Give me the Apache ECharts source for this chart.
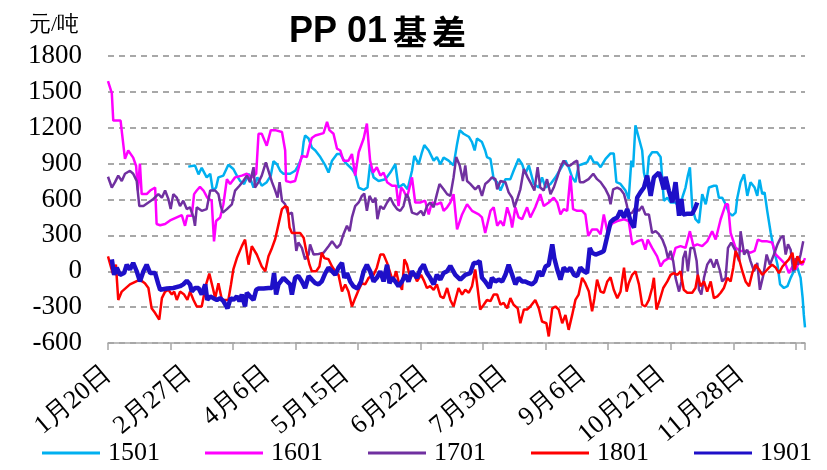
<!DOCTYPE html>
<html>
<head>
<meta charset="utf-8">
<script src="https://cdn.jsdelivr.net/npm/echarts@6/dist/echarts.min.js"></script>
<style>
  html, body { margin: 0; padding: 0; background: #fff; }
  #chart { width: 827px; height: 470px; }
</style>
</head>
<body>
<div id="chart"></div>
<script>
// x = trading-day index from 1月20日, one label every 27 trading days
var tickLabels = ["1月20日", "2月27日", "4月6日", "5月15日", "6月22日", "7月30日", "9月6日", "10月21日", "11月28日"];
var seriesNames = ["1501", "1601", "1701", "1801", "1901"];
var seriesColors = ["#00B0F0", "#FF00FF", "#7030A0", "#FF0000", "#1E0FC8"];

var s1501 = [[27.4,875],[29.7,885],[30.9,810],[32.0,865],[33.7,785],[34.9,815],[35.8,675],[36.9,700],[37.7,785],[39.4,800],[41.1,890],[42.8,855],[44.0,800],[45.1,755],[46.5,730],[48.0,815],[49.7,700],[51.0,785],[52.5,715],[54.2,745],[55.6,800],[56.5,920],[57.7,895],[58.8,840],[59.9,815],[62.2,815],[63.9,840],[65.0,885],[66.2,955],[66.8,1080],[67.3,1135],[68.5,1110],[69.6,1035],[70.8,1010],[72.5,955],[74.2,885],[75.3,825],[76.5,925],[78.2,980],[79.3,980],[81.0,910],[83.3,855],[84.4,815],[85.6,700],[87.3,680],[88.6,700],[89.5,895],[90.7,785],[92.4,755],[94.7,770],[96.4,825],[98.1,895],[99.2,700],[100.9,730],[102.3,685],[103.8,840],[104.6,965],[106.1,895],[107.2,995],[108.0,1055],[109.5,1010],[111.2,925],[112.3,955],[113.5,895],[114.6,950],[116.3,925],[118.0,885],[119.2,1065],[120.1,1180],[121.4,1150],[123.2,1125],[124.3,1080],[125.2,1010],[126.0,1110],[127.7,1080],[128.8,1010],[129.4,955],[130.6,940],[131.7,770],[132.9,745],[134.0,675],[135.7,770],[137.4,770],[138.5,840],[140.2,940],[141.4,895],[142.5,815],[143.7,885],[145.4,730],[147.1,700],[148.2,785],[149.4,700],[151.1,730],[152.8,785],[154.5,855],[156.2,925],[157.3,870],[158.5,785],[159.6,745],[160.7,885],[161.9,895],[163.6,910],[164.7,965],[165.9,910],[167.0,910],[168.2,870],[169.9,940],[171.6,985],[172.7,985],[173.6,745],[175.0,730],[176.7,675],[177.8,605],[178.7,925],[179.3,870],[180.1,1220],[181.3,1110],[182.4,1010],[183.0,825],[183.9,730],[184.7,955],[185.8,995],[187.5,995],[188.7,955],[189.8,590],[191.0,615],[192.1,575],[193.8,575],[195.0,535],[196.1,615],[197.2,700],[198.0,800],[198.7,870],[199.5,535],[200.6,435],[201.8,405],[202.9,645],[204.1,560],[205.2,700],[206.9,715],[207.8,715],[208.6,615],[209.7,615],[210.9,560],[212.0,490],[213.2,465],[214.3,490],[214.9,615],[216.0,745],[217.2,810],[218.3,630],[219.4,745],[220.8,700],[221.7,630],[222.5,765],[223.4,645],[224.2,660],[225.1,505],[226.3,320],[227.4,180],[228.6,55],[229.5,-110],[230.8,-140],[232.0,-125],[233.1,-55],[234.2,0],[235.4,30],[236.5,-55],[237.2,-225],[237.6,-365],[238.0,-470]];

var s1601 = [[0,1590],[1.3,1490],[1.8,1260],[4.3,1260],[4.8,1150],[5.8,940],[6.9,1010],[8.6,950],[9.6,880],[10.2,675],[10.9,900],[11.5,645],[13.2,645],[14.4,675],[16.1,700],[16.6,395],[17.8,385],[19.5,395],[21.2,425],[25.2,470],[26.3,380],[27.1,465],[28.6,465],[29.4,645],[30.3,675],[31.4,705],[32.6,675],[33.9,615],[35.4,590],[36.2,250],[36.9,420],[38.3,450],[39.4,560],[40.6,770],[41.7,730],[43.4,785],[45.7,800],[47.4,815],[49.1,785],[50.6,815],[51.4,1150],[52.5,1150],[54.2,1050],[55.6,1180],[57.1,1180],[59.4,1165],[60.5,1010],[60.8,755],[62.2,745],[63.9,755],[65.0,855],[66.2,965],[67.9,955],[69.0,1065],[69.6,1115],[70.8,1135],[73.6,1155],[74.8,1250],[75.6,1180],[77.0,1150],[78.2,1025],[79.3,1010],[80.4,925],[82.1,925],[83.3,980],[84.4,800],[85.6,995],[87.3,1110],[88.4,1235],[89.5,925],[90.5,825],[91.8,870],[93.0,800],[94.1,825],[95.3,745],[97.0,715],[98.4,715],[99.2,545],[100.1,700],[100.9,675],[102.1,615],[103.8,785],[104.9,575],[106.6,575],[108.3,590],[109.5,475],[110.6,575],[112.3,560],[113.7,575],[114.6,505],[115.8,535],[116.9,575],[118.0,645],[119.2,350],[120.9,475],[122.6,560],[124.3,505],[126.6,475],[127.7,450],[128.8,320],[130.6,505],[131.7,535],[132.9,380],[134.0,420],[135.1,380],[136.3,535],[137.4,450],[138.0,365],[139.1,535],[140.2,450],[141.4,435],[143.1,535],[144.2,450],[145.9,535],[147.6,645],[148.8,545],[150.5,575],[152.2,615],[153.4,575],[154.5,475],[155.6,520],[156.8,505],[157.9,800],[158.8,520],[160.2,505],[161.9,505],[163.0,475],[164.0,295],[165.3,350],[167.0,350],[168.2,310],[169.3,475],[170.5,335],[172.2,400],[173.9,420],[176.2,435],[177.8,420],[179.0,225],[180.7,250],[182.4,265],[183.5,180],[184.3,265],[185.8,195],[187.5,125],[188.7,40],[189.8,85],[191.5,110],[192.7,100],[193.8,195],[195.5,210],[197.2,195],[198.7,335],[199.9,210],[201.2,225],[202.9,210],[204.6,250],[206.3,335],[207.5,265],[209.2,435],[210.9,560],[211.7,560],[212.6,320],[214.3,195],[216.0,170],[217.7,170],[219.4,155],[220.8,170],[221.9,265],[223.4,250],[225.1,250],[226.8,240],[228.0,140],[229.7,100],[231.4,55],[232.5,-15],[233.7,40],[234.8,15],[235.9,70],[237.1,55],[238.0,110]];

var s1701 = [[0,790],[1.3,700],[2.4,745],[3.5,800],[4.7,755],[5.8,815],[7.5,840],[8.6,815],[9.8,755],[10.7,545],[12.1,545],[13.8,575],[15.5,605],[17.2,645],[18.4,615],[19.5,675],[20.6,605],[21.4,520],[22.3,645],[23.5,615],[24.6,545],[25.7,590],[26.9,520],[28.0,535],[29.2,450],[29.7,380],[30.3,535],[32.0,505],[33.7,520],[34.9,675],[36.6,675],[37.7,645],[38.5,545],[39.2,490],[40.6,520],[42.3,560],[43.4,675],[44.9,715],[46.2,755],[47.4,800],[48.5,745],[49.7,870],[50.2,700],[51.4,745],[52.5,800],[53.9,910],[54.8,840],[56.0,745],[57.1,675],[57.9,615],[58.6,745],[59.4,590],[60.5,560],[61.6,475],[62.8,490],[63.6,335],[64.3,170],[65.0,240],[66.2,195],[67.3,100],[68.5,140],[69.0,225],[70.2,140],[71.9,145],[73.6,155],[75.3,210],[76.5,250],[78.2,195],[79.3,225],[80.4,310],[81.6,380],[82.5,335],[83.3,450],[84.4,545],[85.6,575],[86.7,630],[87.5,650],[88.4,505],[89.3,630],[90.5,575],[91.3,615],[92.0,435],[93.0,545],[94.1,520],[95.3,575],[96.4,615],[97.5,560],[98.7,520],[99.8,505],[100.9,545],[101.9,645],[102.6,615],[103.8,490],[105.5,475],[106.9,505],[107.8,465],[108.9,545],[110.0,575],[111.2,535],[112.3,645],[113.2,730],[114.6,685],[115.8,645],[116.9,630],[118.0,785],[118.9,955],[120.1,885],[121.2,755],[122.0,885],[122.6,755],[123.7,730],[125.4,685],[126.6,715],[127.7,630],[128.8,730],[130.0,755],[131.1,785],[132.3,770],[132.9,685],[134.0,755],[135.7,745],[136.8,660],[138.0,615],[138.8,535],[139.9,615],[140.8,685],[142.0,855],[143.3,785],[144.5,730],[145.6,675],[146.7,870],[147.6,700],[148.8,675],[149.9,770],[151.1,645],[152.2,700],[153.4,785],[154.5,870],[155.6,925],[156.8,885],[157.9,885],[159.1,910],[160.2,925],[161.1,745],[162.4,745],[164.1,770],[165.7,815],[167.0,770],[168.2,745],[169.9,685],[171.0,630],[171.6,560],[172.5,685],[173.9,700],[175.0,685],[176.2,645],[177.1,560],[177.8,475],[179.0,490],[180.1,535],[181.3,505],[182.4,545],[183.5,475],[184.7,475],[185.8,320],[187.0,335],[188.1,310],[189.3,265],[190.4,195],[191.2,110],[192.1,170],[193.0,85],[193.8,-55],[195.0,-170],[195.8,-85],[196.4,110],[197.2,170],[198.0,0],[198.9,195],[200.1,195],[201.0,85],[201.8,-155],[202.6,-195],[203.5,-55],[204.6,55],[205.8,100],[206.9,30],[207.8,100],[209.0,0],[209.7,-85],[210.9,-55],[211.7,195],[212.8,240],[214.3,170],[215.5,85],[216.0,335],[217.2,140],[218.3,180],[219.4,85],[220.6,0],[221.7,70],[222.6,-155],[223.8,-30],[224.9,140],[226.0,55],[227.4,140],[228.6,225],[229.7,280],[230.6,295],[231.4,140],[232.2,225],[233.1,180],[234.0,0],[234.8,110],[235.6,55],[236.5,140],[237.4,250]];

var s1801 = [[0,125],[1.6,-15],[2.7,55],[3.5,-240],[4.7,-170],[7.5,-110],[10.9,-70],[12.6,-100],[13.8,-140],[14.9,-310],[16.1,-350],[17.5,-405],[18.4,-225],[19.5,-170],[20.6,-155],[21.8,-195],[22.6,-170],[23.5,-240],[24.6,-170],[26.0,-195],[27.1,-240],[28.0,-170],[29.2,-240],[30.3,-295],[32.0,-295],[33.5,-110],[34.6,-20],[35.8,-140],[36.6,-225],[37.7,-100],[38.9,-240],[41.1,-240],[42.0,-110],[42.8,15],[44.0,110],[45.7,210],[46.8,265],[48.0,55],[49.1,210],[50.8,140],[52.5,40],[53.7,0],[54.8,125],[56.0,195],[57.1,270],[58.2,390],[59.4,520],[60.5,545],[61.3,535],[62.0,365],[62.8,320],[65.6,320],[66.8,280],[67.7,170],[68.8,55],[69.6,0],[71.1,0],[72.2,40],[73.0,155],[73.9,110],[75.3,100],[76.5,40],[77.6,0],[78.7,-30],[79.9,-170],[81.0,-110],[82.1,-170],[83.3,-295],[84.4,-225],[85.6,-155],[86.7,-100],[87.8,-110],[89.0,-55],[90.7,-30],[91.8,30],[93.0,140],[94.1,140],[95.3,70],[96.4,-15],[97.3,-85],[98.4,0],[99.2,-85],[100.4,-155],[101.2,100],[102.1,55],[103.2,-55],[104.4,-15],[105.5,-85],[106.9,-30],[108.0,-85],[108.9,-140],[110.0,-125],[111.2,-155],[112.3,-110],[113.5,-210],[114.6,-225],[115.8,-140],[116.9,-240],[118.0,-295],[119.7,-140],[120.9,-195],[122.0,-155],[123.2,-180],[124.3,-125],[125.4,15],[126.2,-140],[127.1,-320],[128.3,-280],[129.4,-240],[130.6,-250],[131.7,-195],[132.9,-195],[134.0,-280],[135.1,-265],[136.3,-310],[137.4,-225],[138.5,-280],[139.9,-310],[140.8,-435],[142.0,-320],[143.1,-320],[144.2,-295],[145.9,-240],[147.1,-310],[148.2,-420],[149.7,-435],[150.5,-545],[151.7,-310],[152.8,-295],[153.9,-320],[155.1,-435],[156.2,-365],[157.3,-490],[158.5,-365],[159.6,-240],[160.7,-195],[161.9,-55],[163.0,-100],[164.2,-170],[165.3,-335],[166.1,-225],[167.0,-70],[168.2,-170],[169.3,-180],[170.5,-85],[171.6,-50],[172.7,-155],[173.9,-225],[175.0,-170],[176.2,30],[177.1,-170],[177.8,-100],[179.0,-30],[180.1,0],[181.3,-110],[182.4,-280],[183.5,-295],[184.7,-240],[185.8,-140],[186.4,-55],[187.3,-320],[188.4,-240],[189.6,-140],[191.0,-85],[192.1,-30],[193.2,-15],[194.4,-30],[195.5,0],[196.6,-155],[197.8,-180],[199.5,-180],[200.6,-140],[201.4,-30],[202.3,-125],[203.5,-85],[204.6,-170],[205.8,-85],[206.9,-225],[208.1,-210],[209.2,-180],[210.3,-140],[211.5,-55],[212.6,-85],[213.5,30],[214.3,170],[215.5,100],[216.6,0],[217.7,-85],[218.9,-125],[220.0,-15],[221.1,55],[222.3,15],[223.4,-30],[224.6,0],[225.7,30],[226.8,55],[228.0,30],[229.1,-15],[230.3,40],[231.4,70],[232.5,100],[233.7,155],[234.5,15],[235.4,125],[236.5,70],[237.7,85]];

var s1901 = [[1.3,100],[2.1,-30],[3.0,30],[4.1,-30],[5.5,-15],[6.4,55],[7.5,15],[8.6,70],[9.8,0],[10.9,-85],[12.1,0],[13.2,55],[14.4,-15],[16.1,-15],[17.2,-110],[17.8,-155],[20.1,-145],[22.3,-140],[24.6,-125],[25.7,-110],[26.9,-80],[28.0,-110],[28.6,-170],[29.7,-140],[30.9,-140],[32.0,-195],[33.2,-110],[33.9,-240],[34.9,-210],[36.0,-225],[37.2,-240],[38.3,-225],[39.4,-250],[40.8,-310],[41.9,-225],[42.8,-240],[44.0,-210],[44.9,-250],[45.7,-195],[46.8,-295],[47.4,-180],[48.5,-210],[49.7,-240],[50.6,-155],[51.4,-145],[53.1,-145],[54.8,-140],[56.0,-140],[56.7,-15],[57.4,-195],[58.2,-110],[58.8,-110],[59.9,-55],[61.1,-85],[62.2,-110],[62.8,-195],[63.9,-55],[65.0,-40],[66.2,-85],[67.3,-140],[68.5,-40],[69.6,-70],[70.8,-100],[71.9,-110],[73.0,-85],[74.2,-15],[75.3,30],[76.5,0],[77.6,-30],[78.7,30],[79.9,70],[80.7,-55],[81.6,-15],[82.7,-85],[83.8,-125],[85.2,-145],[86.4,-85],[87.3,0],[88.4,55],[89.5,0],[90.7,-85],[91.8,-55],[93.0,0],[94.1,-85],[95.3,55],[96.1,-100],[97.0,-55],[98.1,-85],[99.2,-125],[100.4,-85],[101.5,-30],[102.6,-85],[103.8,0],[105.5,-55],[106.6,15],[107.8,55],[108.9,-15],[110.0,-55],[111.2,-110],[112.3,-30],[113.5,-70],[114.6,-15],[115.8,0],[116.9,45],[118.6,-30],[120.3,-70],[122.0,-30],[123.7,-15],[124.9,70],[126.0,70],[126.9,85],[127.7,-55],[128.8,-85],[130.3,-140],[131.1,-55],[132.3,-85],[133.4,-70],[134.6,-85],[135.7,-30],[136.8,55],[138.0,-30],[139.1,-110],[140.2,-55],[141.4,-85],[142.5,-85],[143.7,-100],[144.8,-110],[145.9,-85],[147.1,0],[148.2,-40],[149.4,40],[150.5,55],[151.7,225],[152.4,110],[153.4,15],[154.5,-70],[155.6,30],[156.8,0],[157.9,30],[159.1,-30],[160.2,-40],[161.3,30],[162.5,0],[163.6,-15],[164.5,195],[165.3,155],[166.5,140],[168.2,155],[169.3,170],[170.5,295],[171.6,410],[172.7,435],[173.9,450],[175.0,505],[176.2,450],[177.3,520],[178.4,420],[179.6,365],[180.7,615],[181.8,660],[183.0,700],[184.1,800],[185.3,630],[186.4,785],[188.1,825],[188.7,785],[189.8,685],[190.4,790],[191.5,675],[192.7,575],[193.8,745],[195.0,465],[195.8,605],[196.4,475],[197.8,480],[199.5,480],[200.6,535],[201.2,575]];

var xMax = 238;
var seriesData = [s1501, s1601, s1701, s1801, s1901];

var chart = echarts.init(document.getElementById("chart"));
chart.setOption({
  animation: false,
  backgroundColor: "#fff",
  title: [
    {
      text: "{a|PP 01}{b|基}{c|差}",
      left: 284,
      top: 9,
      textStyle: {
        rich: {
          a: { fontFamily: "Liberation Sans", fontWeight: "bold", fontSize: 36, color: "#000" },
          b: { fontFamily: "Noto Sans CJK SC", fontWeight: "bold", fontSize: 34, color: "#000", padding: [0, 0, 0, 6] },
          c: { fontFamily: "Noto Sans CJK SC", fontWeight: "bold", fontSize: 34, color: "#000", padding: [0, 0, 0, 5] }
        }
      }
    },
    {
      text: "元/吨",
      left: 24,
      top: 9,
      textStyle: { fontFamily: "Liberation Serif", fontWeight: "normal", fontSize: 22, color: "#000" }
    }
  ],
  legend: {
    top: 440,
    left: 42,
    width: 785,
    padding: 0,
    icon: "rect",
    itemWidth: 58,
    itemHeight: 3,
    itemGap: 45,
    textStyle: { fontFamily: "Liberation Serif", fontSize: 26, color: "#000", padding: [0, 0, 0, 3] },
    data: seriesNames
  },
  grid: { left: 108, right: 22, top: 56, bottom: 127 },
  xAxis: [
    {
      type: "value",
      min: 0,
      max: xMax,
      interval: 27,
      axisLine: { show: false },
      axisTick: { show: false },
      splitLine: { show: false },
      axisLabel: {
        rotate: 40,
        margin: 28,
        fontFamily: "Liberation Serif",
        fontSize: 26,
        color: "#000",
        showMaxLabel: false,
        formatter: function (v) {
          var k = Math.round(v / 27);
          return tickLabels[k] || "";
        }
      }
    },
    {
      type: "value",
      position: "bottom",
      min: 0,
      max: xMax,
      interval: 21.35,
      axisLine: { show: true, onZero: false, lineStyle: { color: "#A6A6A6", width: 1.5 } },
      axisTick: { show: true, length: 7, lineStyle: { color: "#A6A6A6", width: 1.5 } },
      axisLabel: { show: false },
      splitLine: { show: false }
    }
  ],
  yAxis: {
    type: "value",
    min: -600,
    max: 1800,
    interval: 300,
    axisLine: { show: false },
    axisTick: { show: false },
    axisLabel: {
      margin: 26,
      fontFamily: "Liberation Serif",
      fontSize: 27,
      color: "#000",
      formatter: function (v) { return String(v); }
    },
    splitLine: { lineStyle: { color: "#8C8C8C", type: [6, 5], width: 1.5 } }
  },
  series: seriesNames.map(function (name, i) {
    return {
      name: name,
      type: "line",
      xAxisIndex: 0,
      data: seriesData[i],
      showSymbol: false,
      symbol: "none",
      color: seriesColors[i],
      lineStyle: { width: i === 4 ? 4.5 : 2.5, color: seriesColors[i] }
    };
  })
});
</script>
</body>
</html>
